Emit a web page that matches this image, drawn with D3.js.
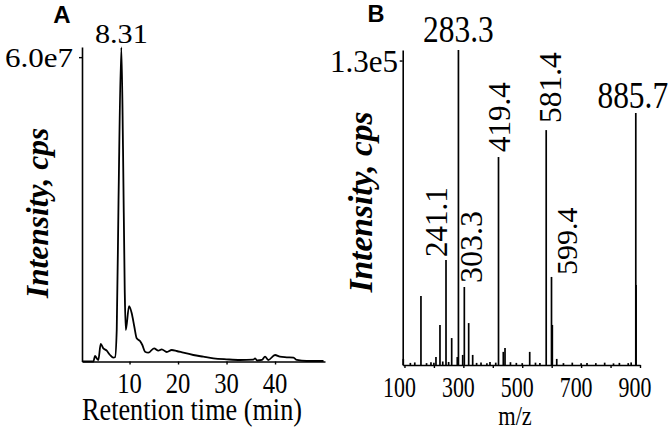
<!DOCTYPE html>
<html>
<head>
<meta charset="utf-8">
<script src="https://cdn.jsdelivr.net/npm/d3@7"></script>
<style>
  html, body { margin: 0; padding: 0; background: #fff; }
  svg { display: block; }
</style>
</head>
<body>
<svg id="chart" width="670" height="433"></svg>
<script>
// ---------- Panel A: chromatogram (retention time in min, intensity in cps) ----------
const chromTime = [0.35, 2.54, 2.89, 3.24, 3.57, 4.06, 4.6, 5.3, 5.98, 6.66, 7.01, 7.36, 7.73, 8.31, 8.66, 9.01, 9.22, 9.9, 10.45, 10.99, 11.48, 12.16, 12.64, 13.2, 13.88, 15.05, 15.94, 16.64, 17.67, 18.7, 19.73, 21.1, 23.15, 25.2, 27.3, 30.0, 32.8, 35.5, 35.9, 36.3, 37.3, 37.94, 38.6, 40.0, 41.0, 42.4, 43.8, 44.5, 46.5, 50.0];
const chromIntensity = [0, 0, 1.08e6, 0.63e6, 0.3e6, 3.45e6, 2.6e6, 2.13e6, 1.28e6, 0.75e6, 0.83e6, 6.2e6, 31.8e6, 61.9e6, 41.7e6, 14.1e6, 6.2e6, 10.9e6, 9.5e6, 6.86e6, 4.57e6, 4.04e6, 3.25e6, 1.93e6, 1.73e6, 2.6e6, 2.13e6, 2.4e6, 1.87e6, 2.27e6, 2.07e6, 1.73e6, 1.28e6, 0.95e6, 0.63e6, 0.43e6, 0.3e6, 0.35e6, 0.63e6, 0.2e6, 0.3e6, 0.95e6, 0.3e6, 1.28e6, 0.95e6, 0.83e6, 0.75e6, 0.3e6, 0.1e6, 0.1e6];
const timeTicks = [10, 20, 30, 40];
const intensityTickA = [6.0e7];
const intensityTickLabelA = ["6.0e7"];
const chromPeakLabel = "8.31";
const chromPeakTime = 8.31;

// ---------- Panel B: mass spectrum (m/z, intensity in cps) ----------
const msMz = [96, 156, 207, 220.6, 241.1, 260.4, 279.4, 283.3, 297.8, 303.3, 318.1, 331.7, 390.5, 419.4, 435.7, 441.5, 525.4, 581.4, 599.4, 602.2, 617.2, 885.7, 886.7,
              120, 135, 175, 190, 200, 230, 250, 345, 360, 380, 410, 460, 480, 500, 545, 560, 640, 670, 700, 720, 750, 780, 810, 830, 860, 870];
const msIntensity = [2.6e3, 2.95e4, 3.4e3, 1.71e4, 4.48e4, 1.15e4, 3.4e3, 1.345e5, 4.3e3, 3.33e4, 1.79e4, 4.3e3, 1.3e3, 8.88e4, 5.6e3, 7.3e3, 5.6e3, 1.003e5, 3.76e4, 1.71e4, 2.6e3, 1.076e5, 3.42e4,
                     900, 1100, 800, 1200, 1000, 1500, 1300, 900, 1100, 800, 1000, 1200, 900, 800, 1000, 900, 800, 1000, 700, 900, 800, 1000, 700, 900, 800, 1100];
const mzTicks = [100, 300, 500, 700, 900];
const mzMinorTicks = [200, 400, 600, 800];
const intensityTickB = [1.3e5];
const intensityTickLabelB = ["1.3e5"];
const peakLabelsHorizontal = ["283.3", "885.7"];
const peakLabelsRotated = ["241.1", "303.3", "419.4", "581.4", "599.4"];

// ---------- drawing ----------
const svg = d3.select("#chart");
const SERIF = "'Liberation Serif', 'Times New Roman', 'DejaVu Serif', serif";
const SANS = "'Liberation Sans', Arial, sans-serif";

function txt(g, s, x, y, size, opts = {}) {
  const t = g.append("text")
    .style("font-family", opts.family || SERIF)
    .style("font-size", size + "px")
    .style("font-weight", opts.weight || "normal")
    .style("font-style", opts.style || "normal")
    .attr("fill", "#000")
    .attr("text-anchor", opts.anchor || "middle")
    .attr("transform", `translate(${x},${y})` + (opts.rotate ? ` rotate(${opts.rotate})` : "") + (opts.sx ? ` scale(${opts.sx},1)` : ""))
    .text(s);
  return t;
}

// ===== Panel A =====
const xA = d3.scaleLinear().domain([0.2, 50.3]).range([82, 325]);
const yA = d3.scaleLinear().domain([0, 6.2e7]).range([361.5, 47]);
const gA = svg.append("g");

const chromData = chromTime.map((t, i) => [t, chromIntensity[i]]);
gA.append("path")
  .datum(chromData)
  .attr("fill", "none")
  .attr("stroke", "#000")
  .attr("stroke-width", 1.8)
  .attr("stroke-linejoin", "round")
  .attr("d", d3.line().x(d => xA(d[0])).y(d => yA(d[1])).curve(d3.curveMonotoneX));

const axA_x = gA.append("g").attr("transform", `translate(0,${yA(0)})`)
  .call(d3.axisBottom(xA).tickValues(timeTicks).tickSize(3).tickSizeOuter(0).tickFormat(""));
const axA_y = gA.append("g").attr("transform", `translate(${xA.range()[0]},0)`)
  .call(d3.axisLeft(yA).tickValues(intensityTickA).tickSize(3).tickSizeOuter(0).tickFormat(""));
[axA_x, axA_y].forEach(a => {
  a.select(".domain").attr("stroke", "#000").attr("stroke-width", 1.6);
  a.selectAll(".tick line").attr("stroke", "#000").attr("stroke-width", 1.4);
});
timeTicks.forEach(t => txt(gA, String(t), xA(t), 393, 29, { sx: 0.85 }));
intensityTickA.forEach((v, i) => txt(gA, intensityTickLabelA[i], 73, yA(v) + 10, 27, { anchor: "end", sx: 1.15 }));
txt(gA, chromPeakLabel, xA(chromPeakTime), 43, 27, { sx: 1.12 });
txt(gA, "Retention time (min)", 192, 420, 32, { sx: 0.82 });
txt(gA, "Intensity, cps", 48, 213, 31.5, { rotate: -90, weight: "bold", style: "italic" });
txt(gA, "A", 62, 23, 24, { weight: "bold", family: SANS });

// ===== Panel B =====
const xB = d3.scaleLinear().domain([94, 900]).range([402.7, 640]);
const yB = d3.scaleLinear().domain([0, 1.345e5]).range([365, 50]);
const gB = svg.append("g");

const msData = msMz.map((m, i) => ({ mz: m, v: msIntensity[i] }));
gB.selectAll("line.peak").data(msData).join("line")
  .attr("class", "peak")
  .attr("x1", d => xB(d.mz)).attr("x2", d => xB(d.mz))
  .attr("y1", yB(0)).attr("y2", d => yB(d.v))
  .attr("stroke", "#000").attr("stroke-width", 1.7);

const axB_x = gB.append("g").attr("transform", `translate(0,${yB(0)})`)
  .call(d3.axisBottom(xB).tickValues(mzTicks.concat(mzMinorTicks)).tickSize(3).tickSizeOuter(0).tickFormat(""));
const axB_y = gB.append("g").attr("transform", `translate(${xB.range()[0]},0)`)
  .call(d3.axisLeft(yB).tickValues(intensityTickB).tickSize(3).tickSizeOuter(0).tickFormat(""));
[axB_x, axB_y].forEach(a => {
  a.select(".domain").attr("stroke", "#000").attr("stroke-width", 1.6);
  a.selectAll(".tick line").attr("stroke", "#000").attr("stroke-width", 1.4);
});
mzTicks.forEach(m => txt(gB, String(m), xB(m) - 5, 397, 30, { sx: 0.73 }));
intensityTickB.forEach((v, i) => txt(gB, intensityTickLabelB[i], 398, yB(v) + 11, 31, { anchor: "end" }));
txt(gB, "m/z", 515, 425, 28, { sx: 0.8 });
txt(gB, "Intensity, cps", 372, 202, 33.5, { rotate: -90, weight: "bold", style: "italic" });
txt(gB, "B", 376, 22, 23.5, { weight: "bold", family: SANS });

// peak labels
const findV = m => msIntensity[msMz.indexOf(m)];
// horizontal labels over their peak: [m/z, dx, gap]
[[283.3, 0, 8], [885.7, -3, 5]].forEach(([m, dx, gap], i) => {
  txt(gB, peakLabelsHorizontal[i], xB(m) + dx, yB(findV(m)) - gap, 37, { sx: 0.85 });
});
// rotated labels: [m/z, baseline offset from peak x, gap above peak top, size]
[[241.1, 1, 3, 31], [303.3, 18, 4, 32], [419.4, 11, 5, 31], [581.4, 15, 7, 31.5], [599.4, 26, 2, 30]].forEach(([m, dx, gap, fs], i) => {
  txt(gB, peakLabelsRotated[i], xB(m) + dx, yB(findV(m)) - gap, fs, { rotate: -90, anchor: "start" });
});
</script>
</body>
</html>
